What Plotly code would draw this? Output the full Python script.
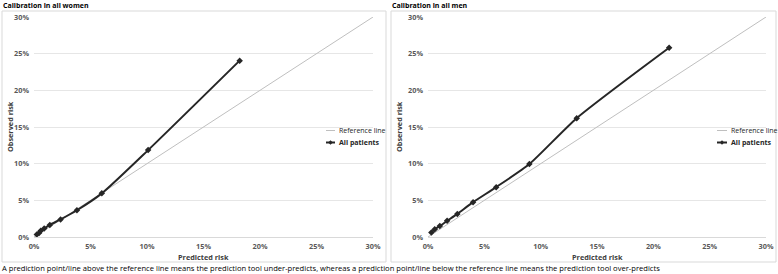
import plotly.graph_objects as go

W, H = 778, 274

# Data (percent)
women_pred = [0.25, 0.45, 0.6, 0.9, 1.4, 2.35, 3.8, 6.0, 10.1, 18.2]
women_obs = [0.35, 0.55, 0.85, 1.15, 1.65, 2.4, 3.65, 5.95, 11.85, 24.05]
men_pred = [0.3, 0.6, 1.05, 1.7, 2.6, 4.0, 6.05, 9.0, 13.2, 21.4]
men_obs = [0.6, 1.05, 1.5, 2.2, 3.15, 4.75, 6.8, 9.95, 16.2, 25.8]
ref_line = [0, 30]
tick_vals = [0, 5, 10, 15, 20, 25, 30]
tick_text = ["0%", "5%", "10%", "15%", "20%", "25%", "30%"]
titles = ["Calibration in all women", "Calibration in all men"]
legend_names = ["Reference line", "All patients"]
footnote = ("A prediction point/line above the reference line means the prediction tool under-predicts, "
            "whereas a prediction point/line below the reference line means the prediction tool over-predicts")

FONT = "Open Sans"
REF_COLOR = "#BFBFBF"
SERIES_COLOR = "#262626"


def px(x):
    return x / W


def py(y):
    return 1 - y / H


fig = go.Figure()

panels = [
    dict(xa="x", ya="y", x0=34, x1=373, pred=women_pred, obs=women_obs,
         box=(2, 386), title_x=1, leg_x=(326, 335), leg_text=337),
    dict(xa="x2", ya="y2", x0=428, x1=766, pred=men_pred, obs=men_obs,
         box=(391, 776), title_x=390, leg_x=(717, 727), leg_text=729),
]

Y_TOP, Y_BOT = 17, 237
yd = [py(Y_BOT), py(Y_TOP)]

for i, p in enumerate(panels):
    fig.add_trace(go.Scatter(
        x=ref_line, y=ref_line, mode="lines", name=legend_names[0],
        line=dict(color=REF_COLOR, width=1), xaxis=p["xa"], yaxis=p["ya"],
        showlegend=False, hoverinfo="skip"))
    fig.add_trace(go.Scatter(
        x=p["pred"], y=p["obs"], mode="lines+markers", name=legend_names[1],
        line=dict(color=SERIES_COLOR, width=2, shape="spline", smoothing=0.6),
        marker=dict(symbol="diamond", size=5, color=SERIES_COLOR),
        xaxis=p["xa"], yaxis=p["ya"], showlegend=False, cliponaxis=False))
    # box around panel
    fig.add_shape(type="rect", xref="paper", yref="paper",
                  x0=px(p["box"][0]), x1=px(p["box"][1]), y0=py(262), y1=py(11),
                  line=dict(color="#D9D9D9", width=1), layer="below")
    # panel title
    fig.add_annotation(text="<b>" + titles[i] + "</b>", xref="paper", yref="paper",
                       x=px(p["title_x"]), y=py(5), xanchor="left", yanchor="middle",
                       showarrow=False, font=dict(family=FONT, size=7, color="#000"))
    # axis titles
    xc = (p["x0"] + p["x1"]) / 2
    fig.add_annotation(text="<b>Predicted risk</b>", xref="paper", yref="paper",
                       x=px(xc), y=py(256.5), xanchor="center", yanchor="middle",
                       showarrow=False, font=dict(family=FONT, size=7.3, color="#404040"))
    fig.add_annotation(text="<b>Observed risk</b>", xref="paper", yref="paper",
                       x=px(p["box"][0] + 8), y=py((Y_TOP + Y_BOT) / 2), xanchor="center",
                       yanchor="middle", textangle=-90,
                       showarrow=False, font=dict(family=FONT, size=7.3, color="#404040"))
    # manual legend
    lx0, lx1 = p["leg_x"]
    for j, (yy, col, wd) in enumerate([(130.5, REF_COLOR, 1), (142.5, SERIES_COLOR, 2)]):
        fig.add_shape(type="line", xref="paper", yref="paper",
                      x0=px(lx0), x1=px(lx1), y0=py(yy), y1=py(yy),
                      line=dict(color=col, width=wd))
        fig.add_annotation(text=legend_names[j] if j == 0 else "<b>" + legend_names[j] + "</b>",
                           xref="paper", yref="paper",
                           x=px(p["leg_text"]), y=py(yy), xanchor="left", yanchor="middle",
                           showarrow=False, font=dict(family=FONT, size=7, color="#262626"))
    cx, cy = (lx0 + lx1) / 2, 142.5
    fig.add_shape(type="path", xref="paper", yref="paper",
                  path=(f"M {px(cx - 2.2)},{py(cy)} L {px(cx)},{py(cy - 2.2)} "
                        f"L {px(cx + 2.2)},{py(cy)} L {px(cx)},{py(cy + 2.2)} Z"),
                  fillcolor=SERIES_COLOR, line=dict(color=SERIES_COLOR, width=0))

axis_common = dict(range=[0, 30], tickvals=tick_vals, ticktext=tick_text,
                   tickfont=dict(family=FONT, size=7.3, color="#595959", weight="bold"),
                   showgrid=False, zeroline=False, ticks="", fixedrange=True, automargin=False)

for i, p in enumerate(panels):
    suffix = "" if i == 0 else "2"
    fig.layout["xaxis" + suffix] = dict(
        axis_common, domain=[px(p["x0"]), px(p["x1"])], anchor="y" + suffix,
        showline=True, linecolor="#D9D9D9", linewidth=1, ticklabelstandoff=2)
    fig.layout["yaxis" + suffix] = dict(
        axis_common, domain=yd, anchor="x" + suffix,
        showgrid=True, gridcolor="#E6E6E6", gridwidth=1, showline=False, ticklabelstandoff=4)

fig.add_annotation(text=footnote, xref="paper", yref="paper", x=0, y=py(268),
                   xanchor="left", yanchor="middle", showarrow=False,
                   font=dict(family=FONT, size=7.6, color="#000"))

fig.update_layout(width=W, height=H, margin=dict(l=0, r=0, t=0, b=0),
                  paper_bgcolor="white", plot_bgcolor="white", showlegend=False)

fig.write_html("out.html", config={"displayModeBar": False},
               post_script="document.body.style.margin='0';document.body.style.overflow='hidden';")
